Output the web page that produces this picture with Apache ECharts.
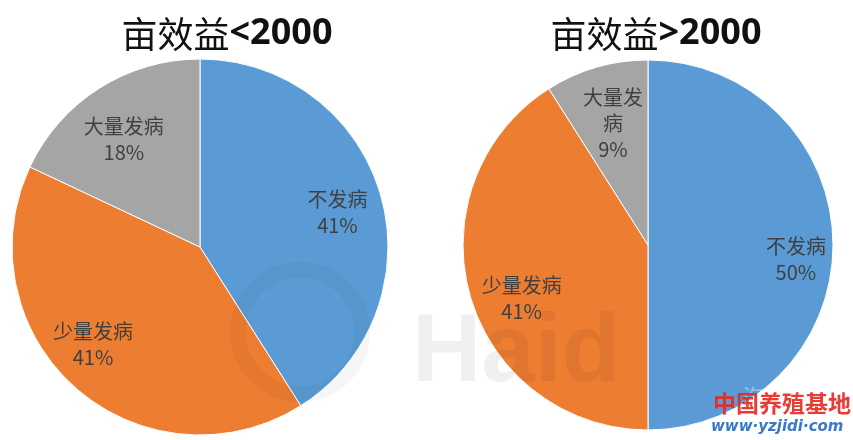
<!DOCTYPE html>
<html>
<head>
<meta charset="utf-8">
<script src="https://cdn.jsdelivr.net/npm/echarts@6/dist/echarts.min.js"></script>
<style>html,body{margin:0;padding:0;background:#fff}#c{width:853px;height:440px}</style>
</head>
<body>
<div id="c"></div>
<script>
const categories = ['不发病', '少量发病', '大量发病'];
const leftValues = [41, 41, 18];
const rightValues = [50, 41, 9];
const titleNames = ['亩效益', '亩效益'];
const titleSuffix = ['<2000', '>2000'];

const colors = ['#5B9BD5', '#ED7D31', '#A5A5A5'];
const cjk = '"Noto Sans CJK SC", "Microsoft YaHei", sans-serif';

function pieData(vals) {
  return categories.map((n, i) => ({ name: n, value: vals[i], itemStyle: { color: colors[i] } }));
}
function labelData(vals, offsets, wrapIdx) {
  return categories.map((n, i) => {
    const d = { name: n, value: vals[i], itemStyle: { color: 'transparent', borderWidth: 0 },
                label: { offset: offsets[i] } };
    if (i === wrapIdx) { d.label.width = 62; d.label.overflow = 'break'; }
    return d;
  });
}
const pies = [
  { center: [200, 247], r: 188, vals: leftValues, wrap: -1, offsets: [[1, 5], [-13, -9], [0, 12]] },
  { center: [648, 245], r: 185, vals: rightValues, wrap: 2, offsets: [[8, 14], [8, 14], [4, 13]] }
];
const series = [];
pies.forEach(p => {
  series.push({
    type: 'pie', center: p.center, radius: [0, p.r], startAngle: 90, clockwise: true,
    silent: true, label: { show: false }, labelLine: { show: false },
    itemStyle: { borderColor: '#ffffff', borderWidth: 1 },
    data: pieData(p.vals)
  });
  series.push({
    type: 'pie', center: p.center, radius: [p.r * 0.48, p.r], startAngle: 90, clockwise: true,
    silent: true, avoidLabelOverlap: false, z: 5,
    label: {
      show: true, position: 'inside', formatter: '{b}\n{d}%',
      color: '#404040', fontSize: 20, lineHeight: 26, fontFamily: cjk
    },
    labelLine: { show: false },
    data: labelData(p.vals, p.offsets, p.wrap)
  });
});

const option = {
  animation: false,
  backgroundColor: '#ffffff',
  title: [222, 651].map((x, i) => ({
    text: '{a|' + titleNames[i] + '}{b|' + titleSuffix[i] + '}',
    left: x, top: 11, textAlign: 'center',
    textStyle: {
      rich: {
        a: { fontSize: 36, fontFamily: cjk, fontWeight: 'normal', color: '#111' },
        b: { fontSize: 36, fontFamily: '"Open Sans", "Noto Sans", sans-serif', fontWeight: 'bold', color: '#111' }
      }
    }
  })),
  graphic: [
    { type: 'circle', z: 100, silent: true, shape: { cx: 300, cy: 332, r: 62 },
      style: { fill: 'none', stroke: 'rgba(0,0,0,0.035)', lineWidth: 16 } },
    { type: 'text', left: 412, top: 307, z: 100, silent: true,
      style: { text: 'Haid', font: 'bold 96px "Liberation Sans", Arial, sans-serif', fill: 'rgba(0,0,0,0.06)' } },
    { type: 'text', left: 742, top: 386, z: 100, silent: true,
      style: { text: '海大农牧', font: '24px "Noto Sans CJK SC", sans-serif', fill: 'rgba(255,255,255,0.35)' } },
    { type: 'text', left: 713, top: 392, z: 101, silent: true,
      style: { text: '中国养殖基地', font: 'bold 23px "Noto Sans CJK SC", sans-serif', fill: 'rgba(230,40,30,0.9)' } },
    { type: 'text', left: 711, top: 420, z: 101, silent: true,
      style: { text: 'www·yzjidi·com', font: 'italic bold 15px "DejaVu Sans", sans-serif', fill: '#3a78c8' } }
  ],
  series: series
};
echarts.init(document.getElementById('c')).setOption(option);
</script>
</body>
</html>
